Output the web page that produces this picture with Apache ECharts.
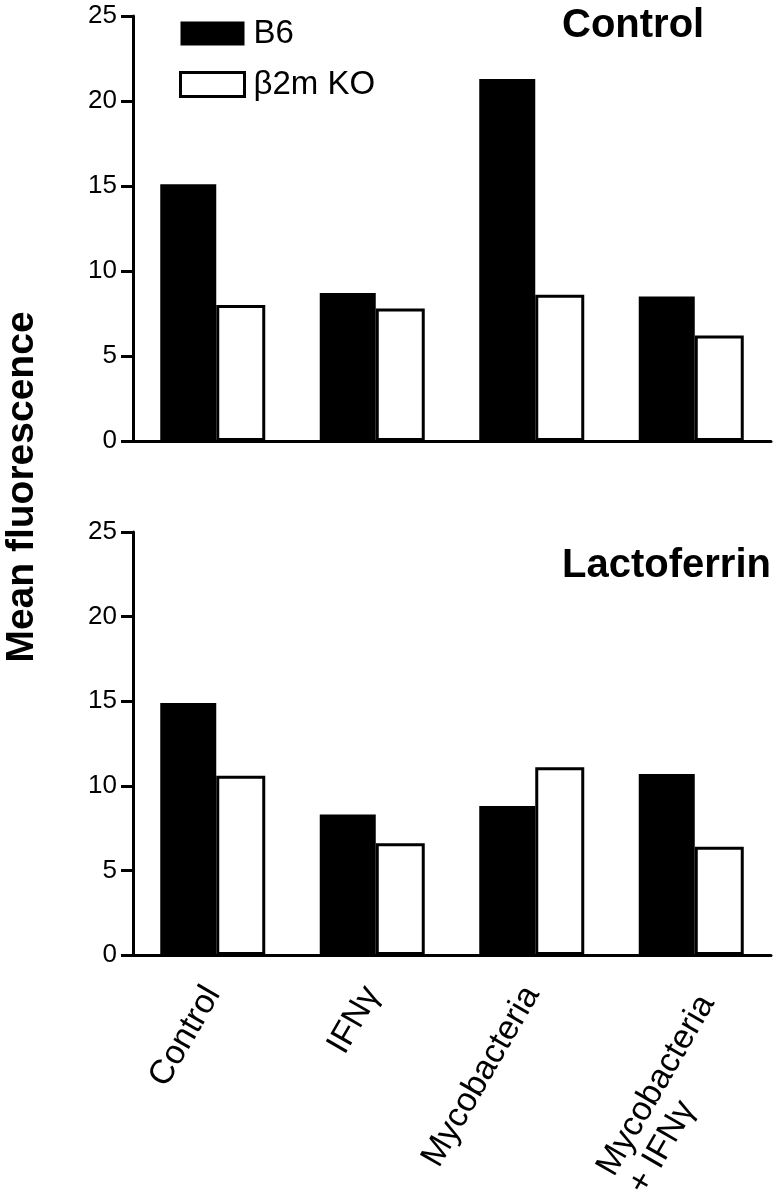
<!DOCTYPE html>
<html>
<head>
<meta charset="utf-8">
<script src="https://cdn.jsdelivr.net/npm/echarts@6/dist/echarts.min.js"></script>
<style>
html,body{margin:0;padding:0;background:#fff;}
#chart{width:776px;height:1200px;}
</style>
</head>
<body>
<div id="chart"></div>
<script>
const categories = ['Control', 'IFNγ', 'Mycobacteria', 'Mycobacteria\n+ IFNγ'];
const seriesNames = ['B6', 'β2m KO'];
const panelTitles = ['Control', 'Lactoferrin'];
const controlB6 = [15.1, 8.7, 21.3, 8.5];
const controlKO = [8.0, 7.8, 8.6, 6.2];
const lactoB6 = [14.9, 8.3, 8.8, 10.7];
const lactoKO = [10.6, 6.6, 11.1, 6.4];
const yMin = 0, yMax = 25, yStep = 5;
const yAxisTitle = 'Mean fluorescence';

const FONT = '"Liberation Sans", Arial, Helvetica, sans-serif';
const LABEL_PAD = 0;
const LINE_H = 36;
const chart = echarts.init(document.getElementById('chart'), null, {renderer: 'canvas'});

function catLabel(v) {
  const lines = v.split('\n');
  if (lines.length < 2) return v;
  return lines[0] + '\n{l|' + lines[1] + '}';
}
// multi-line labels sit a little further down-right, as in the original figure
const catData = categories.map(c => {
  const n = c.split('\n').length;
  if (n < 2) return c;
  return {value: c, textStyle: {padding: [LABEL_PAD + 2 * LINE_H * (n - 1), 0, 0, 0]}};
});

function xAxisFor(gi, showLabels) {
  return {
    type: 'category', gridIndex: gi, data: catData, boundaryGap: true,
    axisLine: {show: true, lineStyle: {color: '#000', width: 3}},
    axisTick: {show: false},
    splitLine: {show: false},
    axisLabel: {
      show: showLabels, rotate: 60, interval: 0, margin: 34,
      color: '#000', fontSize: 34, fontFamily: FONT,
      padding: [LABEL_PAD, 0, 0, 0], lineHeight: LINE_H,
      formatter: catLabel,
      rich: {l: {fontSize: 34, fontFamily: FONT, color: '#000', width: 170, align: 'left', lineHeight: LINE_H}}
    }
  };
}
function yAxisFor(gi) {
  return {
    type: 'value', gridIndex: gi, min: yMin, max: yMax, interval: yStep,
    axisLine: {show: true, lineStyle: {color: '#000', width: 3}},
    axisTick: {show: true, length: 12, lineStyle: {color: '#000', width: 3}},
    splitLine: {show: false},
    axisLabel: {color: '#000', fontSize: 26, fontFamily: FONT, margin: 16}
  };
}
const blackStyle = {color: '#000'};
const whiteStyle = {color: '#fff', borderColor: '#000', borderWidth: 3};

const option = {
  backgroundColor: '#fff',
  animation: false,
  textStyle: {fontFamily: FONT},
  title: [
    {text: panelTitles[0], left: 562, top: 6, padding: 0,
     textStyle: {fontSize: 40, fontWeight: 'bold', color: '#000', fontFamily: FONT}},
    {text: panelTitles[1], left: 562, top: 546, padding: 0,
     textStyle: {fontSize: 40, fontWeight: 'bold', color: '#000', fontFamily: FONT}}
  ],
  legend: {
    orient: 'vertical', left: 179, top: 17, padding: 0,
    itemWidth: 64, itemHeight: 24, itemGap: 18,
    textStyle: {fontSize: 33, color: '#000', fontFamily: FONT, padding: [0, 0, 0, 4]},
    data: [
      {name: seriesNames[0], icon: 'rect', itemStyle: blackStyle},
      {name: seriesNames[1], icon: 'rect', itemStyle: whiteStyle}
    ]
  },
  grid: [
    {left: 133, right: 5, top: 16, height: 425, containLabel: false, outerBoundsMode: 'none'},
    {left: 133, right: 5, top: 532, height: 423, containLabel: false, outerBoundsMode: 'none'}
  ],
  xAxis: [xAxisFor(0, false), xAxisFor(1, true)],
  yAxis: [yAxisFor(0), yAxisFor(1)],
  graphic: [{
    type: 'text', x: 22, y: 487, rotation: Math.PI / 2,
    style: {text: yAxisTitle, font: 'bold 39px ' + FONT, fill: '#000',
            textAlign: 'center', textVerticalAlign: 'middle'}
  }],
  series: [
    {name: seriesNames[0], type: 'bar', xAxisIndex: 0, yAxisIndex: 0, data: controlB6,
     barWidth: 56, barGap: '0%', itemStyle: blackStyle},
    {name: seriesNames[1], type: 'bar', xAxisIndex: 0, yAxisIndex: 0, data: controlKO,
     barWidth: 49, barGap: '0%', itemStyle: whiteStyle},
    {name: seriesNames[0], type: 'bar', xAxisIndex: 1, yAxisIndex: 1, data: lactoB6,
     barWidth: 56, barGap: '0%', itemStyle: blackStyle},
    {name: seriesNames[1], type: 'bar', xAxisIndex: 1, yAxisIndex: 1, data: lactoKO,
     barWidth: 49, barGap: '0%', itemStyle: whiteStyle}
  ]
};
chart.setOption(option);
</script>
</body>
</html>
